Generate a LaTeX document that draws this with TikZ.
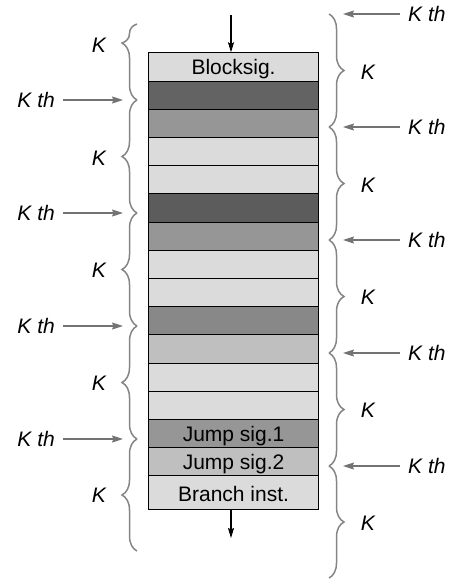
\documentclass[tikz,border=0pt]{standalone}
\usepackage{fontspec}
\setmainfont{Liberation Sans}
\usetikzlibrary{decorations.pathreplacing,arrows.meta}
\definecolor{lt}{gray}{0.86}
\definecolor{dka}{gray}{0.39}
\definecolor{dkb}{gray}{0.36}
\definecolor{mda}{gray}{0.59}
\definecolor{mdb}{gray}{0.535}
\definecolor{lgt}{gray}{0.75}
\definecolor{brcgray}{gray}{0.52}
\definecolor{arrgray}{gray}{0.45}
\begin{document}
\begin{tikzpicture}[x=1pt,y=-1pt,
  row/.style={draw=black, line width=1.1pt, minimum width=170pt, minimum height=28.2pt,
    anchor=north west, inner sep=0pt, text height=15.5pt, text depth=0pt,
    font=\fontsize{21}{22}\selectfont},
  lbl/.style={inner sep=0pt, font=\fontsize{21}{22}\selectfont\itshape},
  brcl/.style={draw=brcgray, line width=1.5pt, decorate,
    decoration={brace, amplitude=15pt, aspect=#1}},
  brcl/.default=0.5,
  garr/.style={draw=arrgray, line width=1.1pt, -{Stealth[length=11pt,width=7pt,inset=1.5pt]},
    shorten <=8pt, shorten >=14pt},
  barr/.style={draw=black, line width=1.1pt, -{Stealth[length=10pt,width=6pt,inset=1.5pt]}}]
\useasboundingbox (0,0) rectangle (454,579);

% stack of rows
\node[row, fill=lt]  (r1)  at (148,52.3)  {Blocksig.};
\node[row, fill=dka] (r2)  at (148,80.5)  {};
\node[row, fill=mda] (r3)  at (148,108.7) {};
\node[row, fill=lt]  (r4)  at (148,136.9) {};
\node[row, fill=lt]  (r5)  at (148,165.1) {};
\node[row, fill=dkb] (r6)  at (148,193.3) {};
\node[row, fill=mda] (r7)  at (148,221.5) {};
\node[row, fill=lt]  (r8)  at (148,249.7) {};
\node[row, fill=lt]  (r9)  at (148,277.9) {};
\node[row, fill=mdb] (r10) at (148,306.1) {};
\node[row, fill=lgt] (r11) at (148,334.3) {};
\node[row, fill=lt]  (r12) at (148,362.5) {};
\node[row, fill=lt]  (r13) at (148,390.7) {};
\node[row, fill=mda] (r14) at (148,418.9) {Jump sig.1};
\node[row, fill=lgt] (r15) at (148,447.1) {Jump sig.2};
\node[row, fill=lt, minimum height=33.7pt, text height=17pt] (r16) at (148,475.3) {Branch inst.};

% flow arrows
\coordinate (tin) at (231,15);
\coordinate (bout) at (231,538);
\draw[barr] (tin) -- (tin |- r1.north);
\draw[barr] (r16.south -| bout) -- (bout);

% left braces
\coordinate (L0) at (137,24);
\coordinate (L1) at (137,100);
\coordinate (L2) at (137,213);
\coordinate (L3) at (137,326);
\coordinate (L4) at (137,439);
\coordinate (L5) at (137,551);
\draw[brcl=0.75] (L1) -- (L0);
\draw[brcl] (L2) -- (L1);
\draw[brcl] (L3) -- (L2);
\draw[brcl] (L4) -- (L3);
\draw[brcl] (L5) -- (L4);

% right braces
\coordinate (R0) at (329,14);
\coordinate (R1) at (329,127);
\coordinate (R2) at (329,240);
\coordinate (R3) at (329,353);
\coordinate (R4) at (329,466);
\coordinate (R5) at (329,578);
\draw[brcl] (R0) -- (R1);
\draw[brcl] (R1) -- (R2);
\draw[brcl] (R2) -- (R3);
\draw[brcl] (R3) -- (R4);
\draw[brcl] (R4) -- (R5);

% left K labels
\node[lbl] (lK1) at (99,45)  {K};
\node[lbl] (lK2) at (99,158) {K};
\node[lbl] (lK3) at (99,270) {K};
\node[lbl] (lK4) at (99,383) {K};
\node[lbl] (lK5) at (99,495) {K};

% right K labels
\node[lbl] (rK1) at (368,72)  {K};
\node[lbl] (rK2) at (368,185) {K};
\node[lbl] (rK3) at (368,297) {K};
\node[lbl] (rK4) at (368,410) {K};
\node[lbl] (rK5) at (368,523) {K};

% left K th arrows
\node[lbl, anchor=east] (lt1) at (55,100) {K th};
\node[lbl, anchor=east] (lt2) at (55,213) {K th};
\node[lbl, anchor=east] (lt3) at (55,326) {K th};
\node[lbl, anchor=east] (lt4) at (55,439) {K th};
\draw[garr] (lt1.east) -- (L1);
\draw[garr] (lt2.east) -- (L2);
\draw[garr] (lt3.east) -- (L3);
\draw[garr] (lt4.east) -- (L4);

% right K th arrows
\node[lbl, anchor=west] (rt0) at (408,14)  {K th};
\node[lbl, anchor=west] (rt1) at (408,127) {K th};
\node[lbl, anchor=west] (rt2) at (408,240) {K th};
\node[lbl, anchor=west] (rt3) at (408,353) {K th};
\node[lbl, anchor=west] (rt4) at (408,466) {K th};
\draw[garr] (rt0.west) -- (R0);
\draw[garr] (rt1.west) -- (R1);
\draw[garr] (rt2.west) -- (R2);
\draw[garr] (rt3.west) -- (R3);
\draw[garr] (rt4.west) -- (R4);
\end{tikzpicture}
\end{document}
